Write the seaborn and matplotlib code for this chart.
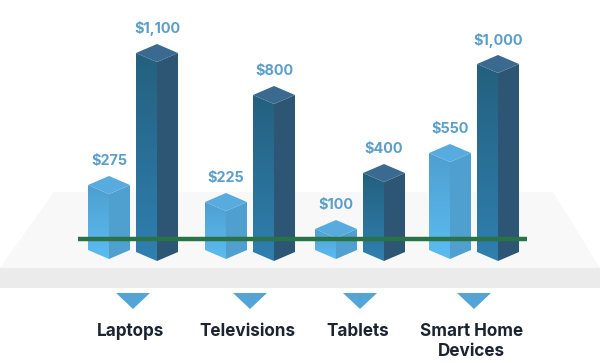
import numpy as np
import pandas as pd
import matplotlib
matplotlib.use('Agg')
import matplotlib.pyplot as plt
from matplotlib.patches import Polygon
from matplotlib.colors import LinearSegmentedColormap
import seaborn as sns

# data
categories = ['Laptops', 'Televisions', 'Tablets', 'Smart Home\nDevices']
low_labels = ['$275', '$225', '$100', '$550']
high_labels = ['$1,100', '$800', '$400', '$1,000']
# the picture's bars are not to scale with their labels, so heights are measured in pixels
low_heights = [65, 48, 21, 97]
high_heights = [199, 157, 79, 188]

# layout
group_x = [133, 250, 360, 474]
BASE = 261  # picture row of the bars' front bottom corner
H = 363
DY = 9  # slant of the top faces

sns.set_theme(style='white')
plt.rcParams['font.family'] = ['Inter', 'DejaVu Sans']

fig = plt.figure(figsize=(6, 3.63), dpi=100)
ax = fig.add_axes([0, 0, 1, 1])


def py(row):
    return BASE - row


df = pd.DataFrame({
    'x': group_x * 2,
    'height': low_heights + high_heights,
    'series': ['low'] * 4 + ['high'] * 4,
})
sns.barplot(data=df, x='x', y='height', hue='series', hue_order=['low', 'high'],
            native_scale=True, width=0.873, gap=0.125, legend=False, ax=ax)

# floor behind the bars
ax.add_patch(Polygon([(54, py(192)), (553, py(192)), (600, py(268)), (0, py(268))],
                     fc='#f8f8f8', ec='none', zorder=0))
ax.add_patch(Polygon([(0, py(268)), (600, py(268)), (600, py(288)), (0, py(288))],
                     fc='#ebebeb', ec='none', zorder=0))

styles = {
    'low': dict(top='#4f9fd0', bottom='#5bbcf2', side='#4f9fcf', cap='#58abdf', lift=2),
    'high': dict(top='#24607f', bottom='#2f80b0', side='#2c5673', cap='#3a6a90', lift=0),
}
bars = list(ax.patches)
all_labels = low_labels + high_labels
names = ['low'] * 4 + ['high'] * 4

for bar, label, name in zip(bars, all_labels, names):
    st = styles[name]
    bar.set_alpha(0)
    x0, w, h = bar.get_x(), bar.get_width(), bar.get_height()
    xm = x0 + w / 2
    x1 = x0 + w
    y0 = st['lift']
    yt = y0 + h
    # left face with a vertical gradient, clipped to the slanted shape
    left = Polygon([(x0, y0 + DY), (xm, y0), (xm, yt), (x0, yt + DY)], fc='none', ec='none', zorder=3)
    ax.add_patch(left)
    cmap = LinearSegmentedColormap.from_list('f', [st['top'], st['bottom']])
    im = ax.imshow(np.linspace(0, 1, 64).reshape(-1, 1), cmap=cmap, aspect='auto',
                   extent=(x0, xm, y0, yt + DY), zorder=3)
    im.set_clip_path(left)
    ax.add_patch(Polygon([(xm, y0), (x1, y0 + DY), (x1, yt + DY), (xm, yt)],
                         fc=st['side'], ec='none', zorder=3))
    ax.add_patch(Polygon([(x0, yt + DY), (xm, yt), (x1, yt + DY), (xm, yt + 2 * DY)],
                         fc=st['cap'], ec='none', zorder=3))
    ax.text(xm, yt + 2 * DY + 15, label, color='#5b9fc8', fontsize=10.4, fontweight='bold',
            ha='center', va='center', zorder=5)

# green line across the bars
ax.plot([78, 527], [py(239), py(239)], color='#2a7248', lw=3.2, solid_capstyle='butt', zorder=4)

# triangles and category names
for x, cat in zip(group_x, categories):
    ax.add_patch(Polygon([(x - 17, py(293)), (x + 17, py(293)), (x, py(309))],
                         fc='#54a5d6', ec='none', zorder=3))
    ax.text(x - 2.5, py(323), cat, color='#1c2430', fontsize=12.3, fontweight='bold',
            ha='center', va='top', linespacing=1.2, zorder=5)

ax.set_xlim(0, 600)
ax.set_ylim(py(H), py(0))
ax.axis('off')
fig.savefig('out.png', dpi=100)
